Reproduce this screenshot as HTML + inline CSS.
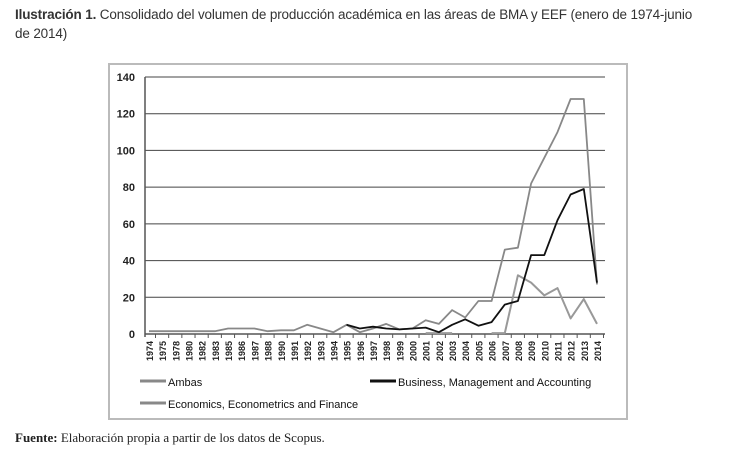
<!DOCTYPE html>
<html><head><meta charset="utf-8"><style>
body{margin:0;background:#fff;width:732px;height:455px;overflow:hidden;font-family:"Liberation Sans",sans-serif;}
#title{position:absolute;left:15px;top:5px;width:688px;font-size:13.5px;line-height:19px;color:#333;letter-spacing:-0.15px}
#frame{position:absolute;left:108px;top:63px;width:520px;height:357px;border:2px solid #bbb;box-sizing:border-box}
#src{position:absolute;left:15px;top:430px;font-family:"Liberation Serif",serif;font-size:13px;color:#222}
</style></head><body>
<div id="title"><b>Ilustración 1.</b> Consolidado del volumen de producción académica en las áreas de BMA y EEF (enero de 1974-junio de 2014)</div>
<div id="frame"></div>
<svg id="chart" width="732" height="455" style="position:absolute;left:0;top:0"></svg>
<div id="src"><b>Fuente:</b> Elaboración propia a partir de los datos de Scopus.</div>
<script>
const categories=["1974","1975","1978","1980","1982","1983","1985","1986","1987","1988","1990","1991","1992","1993","1994","1995","1996","1997","1998","1999","2000","2001","2002","2003","2004","2005","2006","2007","2008","2009","2010","2011","2012","2013","2014"];
const ambas=[1.5,1.5,1.5,1.5,1.5,1.5,3,3,3,1.5,2,2,5,3,1,5,1,3,5.5,2.5,3,7.5,5.5,13,9,18,18,46,47,82,96,110,128,128,27];
const bma=[null,null,null,null,null,null,null,null,null,null,null,null,null,null,null,5,3,4,3,2.5,3,3.5,1,5,8,4.5,6.5,16,18,43,43,62,76,79,28];
const eef=[null,null,null,null,null,null,null,null,null,null,null,null,null,null,null,null,null,null,null,null,null,0.5,0.5,0.5,null,null,0.5,0.5,32,28,21,25,8.5,19,5.5];
const yTicks=[0,20,40,60,80,100,120,140];
const NS="http://www.w3.org/2000/svg";
const svg=document.getElementById('chart');
const X0=149,X1=597,Y0=334,Y1=77;
function x(i){return X0+(X1-X0)*i/(categories.length-1);}
function y(v){return Y0-(Y0-Y1)*v/140;}
function mk(t,a){const e=document.createElementNS(NS,t);for(const k in a)e.setAttribute(k,a[k]);svg.appendChild(e);return e;}
yTicks.forEach(t=>{
 const g=mk('line',{x1:145,x2:605,y1:y(t),y2:y(t),stroke:t===0?'#555':'#444','stroke-width':t===0?1.5:1});
 
 
 const l=mk('text',{x:135,y:y(t)+4,'text-anchor':'end','font-size':11,'font-weight':'bold',fill:'#222'});
 l.textContent=t;
 
 
});
const ax=mk('line',{x1:145,x2:145,y1:Y1,y2:Y0+3,stroke:'#555','stroke-width':1.5});


categories.forEach((c,i)=>{
 const t=mk('text',{transform:`translate(${x(i)+4},${Y0+27}) rotate(-90)`,'font-size':9,'font-weight':'bold',fill:'#222'});
 t.textContent=c;
 
 
 const tk=mk('line',{x1:x(i)+6.5,x2:x(i)+6.5,y1:Y0,y2:Y0+4,stroke:'#555'});
 
 
});
function series(vals,color,w,name){
 let d='',pen=false;
 vals.forEach((v,i)=>{if(v===null){pen=false;return;}d+=(pen?'L':'M')+x(i).toFixed(1)+' '+y(v).toFixed(1);pen=true;});
 const p=mk('path',{d:d,fill:'none',stroke:color,'stroke-width':w,'stroke-linejoin':'round'});
 
 
}
series(eef,'#999',2,'series-economics');
series(ambas,'#888',1.8,'series-ambas');
series(bma,'#111',1.8,'series-bma');
function legend(x1,yy,color,label,name){
 const l=mk('line',{x1:x1,x2:x1+26,y1:yy,y2:yy,stroke:color,'stroke-width':3});
 
 
 const t=mk('text',{x:x1+28,y:yy+5,'font-size':11,fill:'#111'});
 t.textContent=label;
 
 
}
legend(140,381,'#888','Ambas','legend-ambas');
legend(370,381,'#111','Business, Management and Accounting','legend-bma');
legend(140,403,'#888','Economics, Econometrics and Finance','legend-economics');
</script>
</body></html>
